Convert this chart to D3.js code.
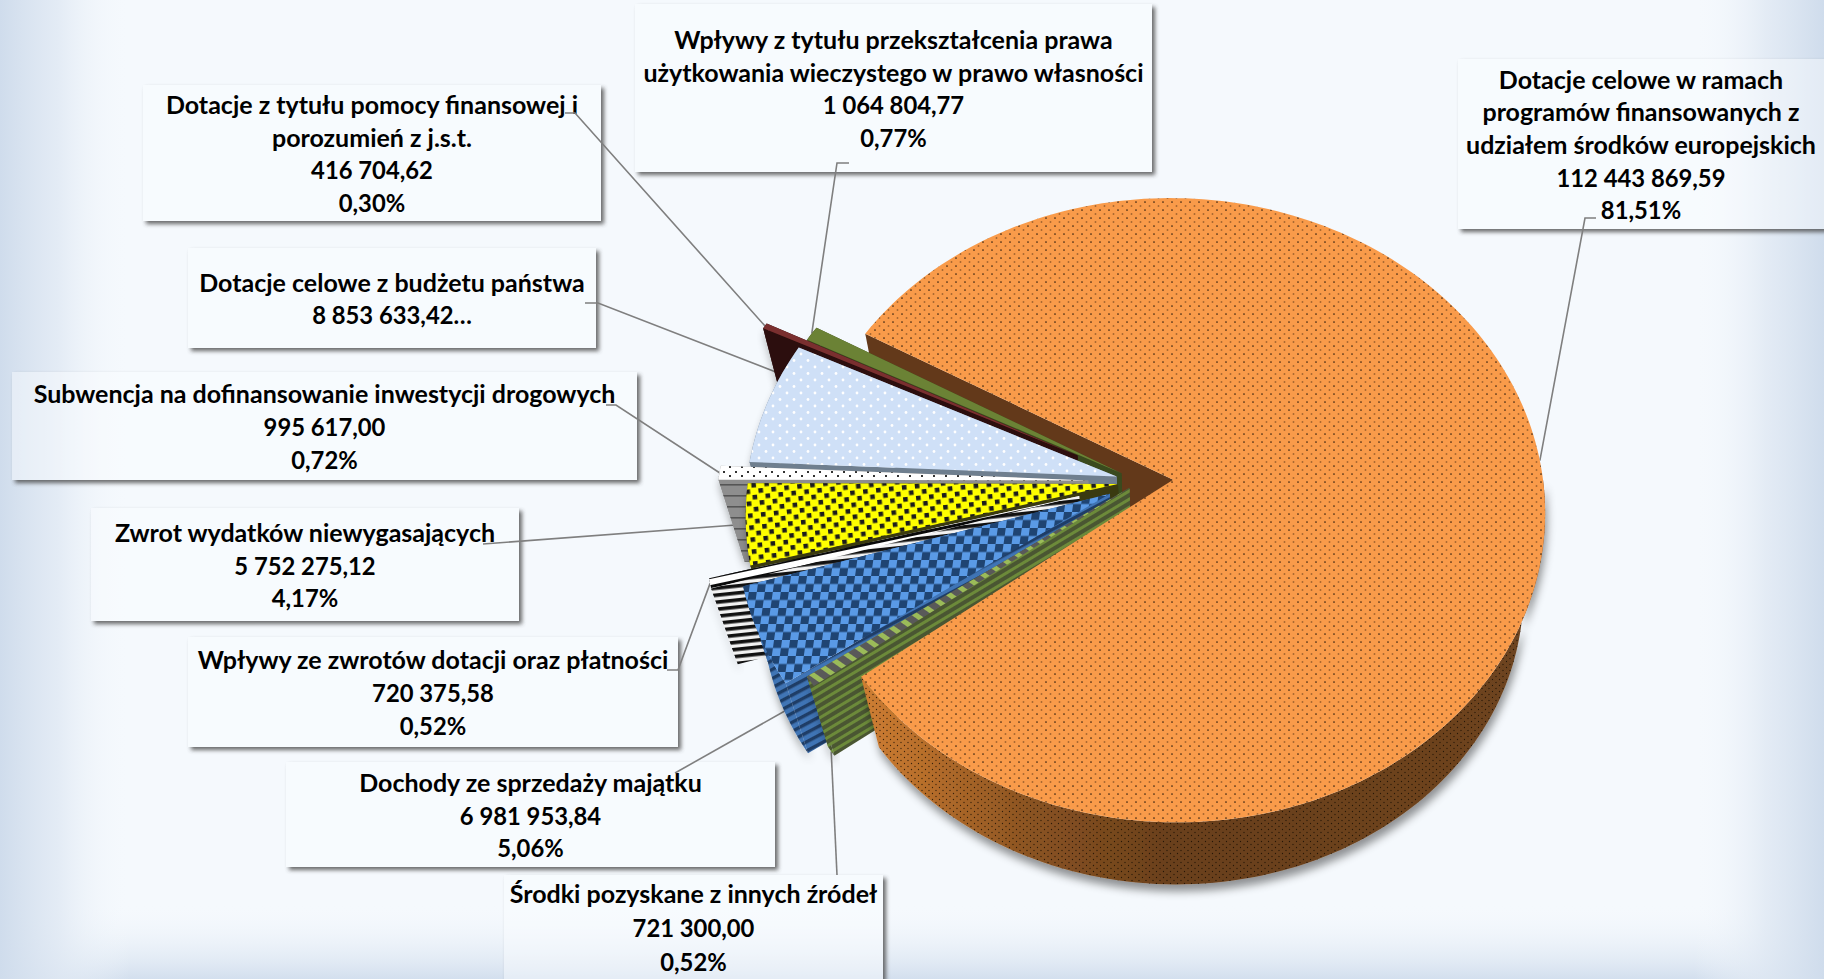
<!DOCTYPE html>
<html>
<head>
<meta charset="utf-8">
<script src="https://cdnjs.cloudflare.com/ajax/libs/d3/7.8.5/d3.min.js"></script>
<style>
html, body { margin: 0; padding: 0; background: #f5f9fd; overflow: hidden; }
svg { display: block; }
text { font-family: Lato, "Open Sans", sans-serif; font-weight: 700; fill: #000; }
</style>
</head>
<body>
<div id="chart"></div>
<script>
// values, clockwise from the big slice
const categories = [
  'Dotacje celowe w ramach programów finansowanych z udziałem środków europejskich',
  'Środki pozyskane z innych źródeł',
  'Dochody ze sprzedaży majątku',
  'Wpływy ze zwrotów dotacji oraz płatności',
  'Zwrot wydatków niewygasających',
  'Subwencja na dofinansowanie inwestycji drogowych',
  'Dotacje celowe z budżetu państwa',
  'Dotacje z tytułu pomocy finansowej i porozumień z j.s.t.',
  'Wpływy z tytułu przekształcenia prawa użytkowania wieczystego w prawo własności'
]
const values = [112443869.59, 721300.00, 6981953.84, 720375.58, 5752275.12, 995617.00, 8853633.42, 416704.62, 1064804.77]
const nameLines = [
  ['Dotacje celowe w ramach', 'programów finansowanych z', 'udziałem środków europejskich'],
  ['Środki pozyskane z innych źródeł'],
  ['Dochody ze sprzedaży majątku'],
  ['Wpływy ze zwrotów dotacji oraz płatności'],
  ['Zwrot wydatków niewygasających'],
  ['Subwencja na dofinansowanie inwestycji drogowych'],
  ['Dotacje celowe z budżetu państwa'],
  ['Dotacje z tytułu pomocy finansowej i', 'porozumień z j.s.t.'],
  ['Wpływy z tytułu przekształcenia prawa', 'użytkowania wieczystego w prawo własności']
]
const truncatedLabel = 6

const w = 1824
const h = 979

// how far each slice is pulled out of the pie (1 = radius)
const explode = [0.09, 0.035, 0.09, 0.17, 0.06, 0.14, 0.065, 0.19, 0.057]

// label boxes x0, y0, x1, y1 and the leader's elbow points
const boxes = [
  [1458, 59, 1830, 229], [504, 875, 883, 985], [286, 762, 775, 867],
  [188, 637, 678, 747], [91, 508, 519, 621], [12, 372, 637, 480],
  [188, 248, 596, 348], [143, 85, 601, 221], [635, 4, 1152, 172]
]
const leaders = [
  [[1596, 218], [1585, 218]], [[837, 875]], [[675, 773]],
  [[667, 670], [678, 670]], [[483, 544]], [[606, 405], [616, 405]],
  [[585, 303], [598, 303]], [[565, 113], [575, 113]], [[849, 163], [837, 163]]
]
// where the leader meets the slice: angle share, radius, height down the wall
const leaderEnd = [
  [0.5, 1, 0], [0.5, 1, 1], [0.08, 1, 0.45], [0.5, 1, 0], [0.5, 1, 0],
  [0.5, 1, 0], [0.75, 1, 0], [0.5, 1, 0], [0.5, 1, 0]
]

const topFill = ['url(#pMain)', 'url(#pSrodkiTop)', 'url(#pCheck)', 'url(#pZwrotyTop)', 'url(#pYellow)', 'url(#pSubTop)', 'url(#pSky)', '#7a2f2f', '#6b8235']
const wallFill = ['url(#gMainWall)', 'url(#pSrodkiWall)', 'url(#pDochWall)', 'url(#pZwrotyWall)', '#3a3a10', 'url(#pSubWall)', '#6f7f8f', '#2c0e0e', '#3a4a1e']
const radialFill = ['#63391a', 'url(#pSrodkiWall)', 'url(#pDochWall)', 'url(#pZwrotyWall)', '#3a3a10', 'url(#pSubWall)', '#6f7f8f', '#2c0e0e', '#3a4a1e']

// perspective of the disc plane
const cx = 1140, cy = 481.5, rx = 370, ry = 309.5, persp = 0.0976
const vp = [1170, 1892], depth = 0.058

function project(u, v, down) {
  const k = 1 - persp * v
  const x = cx + rx * u / k
  const y = cy + ry * v / k
  return [x + (vp[0] - x) * depth * down, y + (vp[1] - y) * depth * down]
}

let svg = d3.select('#chart').append('svg').attr('width', w).attr('height', h)
let defs = svg.append('defs')

function linGrad(id, x1, y1, x2, y2, stops) {
  let g = defs.append('linearGradient').attr('id', id)
    .attr('x1', x1).attr('y1', y1).attr('x2', x2).attr('y2', y2)
  stops.forEach(s => g.append('stop').attr('offset', s[0]).attr('stop-color', s[1]).attr('stop-opacity', s[2]))
}
linGrad('gLeft', 0, 0, 1, 0, [[0, '#cfdcec', 1], [0.45, '#dfe8f3', 0.8], [1, '#f5f9fd', 0]])
linGrad('gRight', 1, 0, 0, 0, [[0, '#cfdcec', 1], [0.45, '#dfe8f3', 0.8], [1, '#f5f9fd', 0]])
linGrad('gBottom', 0, 1, 0, 0, [[0, '#d3dfee', 1], [1, '#f5f9fd', 0]])
linGrad('gMainWall', 0, 0, 1, 0, [[0, '#cf7e32', 1], [0.1, '#b56d2b', 1], [0.25, '#8a5322', 1], [0.45, '#6a401c', 1], [1, '#6e4420', 1]])

function pattern(id, pw, ph, bg, draw, transform) {
  let p = defs.append('pattern').attr('id', id).attr('patternUnits', 'userSpaceOnUse')
    .attr('width', pw).attr('height', ph)
  if (transform) p.attr('patternTransform', transform)
  p.append('rect').attr('width', pw).attr('height', ph).attr('fill', bg)
  draw(p)
}
function dots(p, pts, r, col) {
  pts.forEach(d => p.append('circle').attr('cx', d[0]).attr('cy', d[1]).attr('r', r).attr('fill', col))
}
function squares(p, pts, s, col) {
  pts.forEach(d => p.append('rect').attr('x', d[0]).attr('y', d[1]).attr('width', s).attr('height', s).attr('fill', col))
}
function bar(p, y, bh, col, bw) {
  p.append('rect').attr('y', y).attr('width', bw).attr('height', bh).attr('fill', col)
}

pattern('pMain', 9, 8, '#f99b4a', p => {
  dots(p, [[2, 2]], 0.85, '#3b2410')
  dots(p, [[6.5, 6]], 0.95, '#a5652e')
})
pattern('pDotsDark', 7, 6, 'none', p => {
  dots(p, [[1.5, 1.5], [5, 4.5]], 0.65, 'rgba(15,8,0,0.75)')
})
pattern('pSky', 14, 13, '#cfe0f7', p => dots(p, [[3, 3], [10, 9.5]], 1.4, '#ffffff'))
pattern('pYellow', 13, 12, '#ffff00', p => squares(p, [[1, 1], [7.5, 7]], 4.6, '#1c1c1c'), 'rotate(-6)')
pattern('pCheck', 16, 16, '#5a9ae6', p => squares(p, [[0, 0], [8, 8]], 8, '#1f4472'), 'skewX(-8)')
pattern('pZwrotyTop', 24, 9, '#ffffff', p => bar(p, 0, 3, '#0a0a0a', 24), 'rotate(-12)')
pattern('pZwrotyWall', 8, 7, '#f2f2f2', p => bar(p, 0, 3.6, '#111111', 8), 'rotate(-6)')
pattern('pSubTop', 12, 9, '#ffffff', p => squares(p, [[3, 3], [9, 7]], 2, '#333333'))
pattern('pSubWall', 8, 11, '#8e8e8e', p => bar(p, 0, 1.6, '#555555', 8))
pattern('pSrodkiTop', 12, 12, '#595959', p => bar(p, 0, 5, '#9bbb59', 12), 'rotate(35)')
pattern('pSrodkiWall', 8, 7, '#4a5632', p => bar(p, 0, 3, '#6c8a3a', 8), 'rotate(-31)')
pattern('pDochWall', 8, 8, '#3f74b5', p => bar(p, 0, 3.4, '#1f3d66', 8), 'rotate(-28)')

defs.append('filter').attr('id', 'fBlur').attr('x', '-10%').attr('y', '-10%').attr('width', '120%').attr('height', '120%')
  .append('feGaussianBlur').attr('stdDeviation', 2)
defs.append('filter').attr('id', 'fWall').attr('x', '-20%').attr('y', '-20%').attr('width', '140%').attr('height', '140%')
  .append('feDropShadow').attr('dx', 2).attr('dy', 7).attr('stdDeviation', 4)
  .attr('flood-color', '#000').attr('flood-opacity', 0.42)

// background
svg.append('rect').attr('width', w).attr('height', h).attr('fill', '#f5f9fd')
svg.append('rect').attr('y', h - 75).attr('width', w).attr('height', 75).attr('fill', 'url(#gBottom)')
svg.append('rect').attr('width', 130).attr('height', h).attr('fill', 'url(#gLeft)')
svg.append('rect').attr('x', w - 130).attr('width', 130).attr('height', h).attr('fill', 'url(#gRight)')

// slices angles come from d3.pie, first slice starts up-left
const startAngle = -60.3 * Math.PI / 180
let arcs = d3.pie().sort(null).startAngle(startAngle).endAngle(startAngle + 2 * Math.PI)(values)
let total = d3.sum(values)
let money = d3.formatLocale({ decimal: ',', thousands: ' ', grouping: [3], currency: ['', ''] }).format(',.2f')
let percent = d => (d * 100).toFixed(2).replace('.', ',') + '%'

function slicePoint(i, angle, r, down) {
  let a = arcs[i]
  let mid = (a.startAngle + a.endAngle) / 2
  let e = explode[i]
  return project(e * Math.sin(mid) + r * Math.sin(angle), -e * Math.cos(mid) - r * Math.cos(angle), down)
}
function arcPoints(i, down, from) {
  let a = arcs[i]
  let a0 = from === undefined ? a.startAngle : from
  let n = Math.max(3, Math.ceil((a.endAngle - a0) * 40))
  return d3.range(n + 1).map(j => slicePoint(i, a0 + (a.endAngle - a0) * j / n, 1, down))
}
let line = d3.line()

function topPath(i) {
  let a = arcs[i]
  return line([slicePoint(i, a.startAngle, 0, 0)].concat(arcPoints(i, 0))) + 'Z'
}
function outerPath(i, from) {
  return line(arcPoints(i, 0, from).concat(arcPoints(i, 1, from).reverse())) + 'Z'
}
function radialPath(i, angle) {
  return line([slicePoint(i, angle, 0, 0), slicePoint(i, angle, 1, 0), slicePoint(i, angle, 1, 1), slicePoint(i, angle, 0, 1)]) + 'Z'
}

// label boxes
let labels = svg.append('g').attr('class', 'labels')
values.forEach((v, i) => {
  let b = boxes[i]
  let clip = defs.append('clipPath').attr('id', 'outside' + i)
  clip.append('path').attr('clip-rule', 'evenodd')
    .attr('d', `M0 0H${w}V${h}H0Z M${b[0]} ${b[1]}H${b[2]}V${b[3]}H${b[0]}Z`)
  labels.append('g').attr('clip-path', 'url(#outside' + i + ')')
    .append('rect')
    .attr('x', b[0] + 3).attr('y', b[1] + 3)
    .attr('width', b[2] - b[0]).attr('height', b[3] - b[1])
    .attr('fill', '#444').attr('filter', 'url(#fBlur)').attr('opacity', 0.8)
  labels.append('rect')
    .attr('x', b[0]).attr('y', b[1])
    .attr('width', b[2] - b[0]).attr('height', b[3] - b[1])
    .attr('fill', '#fafcff').attr('fill-opacity', 0.45)

  let rows = nameLines[i].slice()
  if (i === truncatedLabel) rows.push(money(v) + '…')
  else rows.push(money(v), percent(v / total))
  let boxRight = Math.min(b[2], w)
  let mx = (b[0] + boxRight) / 2
  let lineH = i === 1 ? 34 : 32.7
  let top = (b[1] + b[3]) / 2 - lineH * rows.length / 2
  if (i === 1) top = b[1] + 1
  rows.forEach((r, j) => {
    // Lato's digits run wide, numbers get a slightly smaller size
    labels.append('text')
      .attr('x', mx).attr('y', top + lineH * (j + 0.5) + 10)
      .attr('text-anchor', 'middle')
      .attr('font-size', j < nameLines[i].length ? 25 : 23.8)
      .text(r)
  })
})

// leader lines
values.forEach((v, i) => {
  let a = arcs[i]
  let e = leaderEnd[i]
  let end = slicePoint(i, a.startAngle + (a.endAngle - a.startAngle) * e[0], e[1], e[2])
  svg.append('path')
    .attr('d', line(leaders[i].concat([end])))
    .attr('fill', 'none').attr('stroke', '#7f7f7f').attr('stroke-width', 1.6)
})

// back wall of the big slice first, then small ones back to front, big slice's body last
let pie = svg.append('g').attr('class', 'pie')
pie.append('path').attr('d', radialPath(0, arcs[0].startAngle)).attr('fill', radialFill[0])

d3.range(values.length - 1, 0, -1).forEach(i => {
  let a = arcs[i]
  let g = pie.append('g').attr('class', 'slice' + i)
  g.append('path').attr('d', outerPath(i)).attr('fill', wallFill[i]).attr('filter', 'url(#fWall)')
  g.append('path').attr('d', radialPath(i, a.endAngle)).attr('fill', radialFill[i])
  g.append('path').attr('d', radialPath(i, a.startAngle)).attr('fill', radialFill[i])
  g.append('path').attr('d', topPath(i)).attr('fill', topFill[i])
})

// only the near half of the big slice's rim can be seen
const nearRim = Math.PI / 2
pie.append('path').attr('d', outerPath(0, nearRim)).attr('fill', wallFill[0]).attr('filter', 'url(#fWall)')
pie.append('path').attr('d', outerPath(0, nearRim)).attr('fill', 'url(#pDotsDark)')
pie.append('path').attr('d', topPath(0)).attr('fill', topFill[0])
</script>
</body>
</html>
